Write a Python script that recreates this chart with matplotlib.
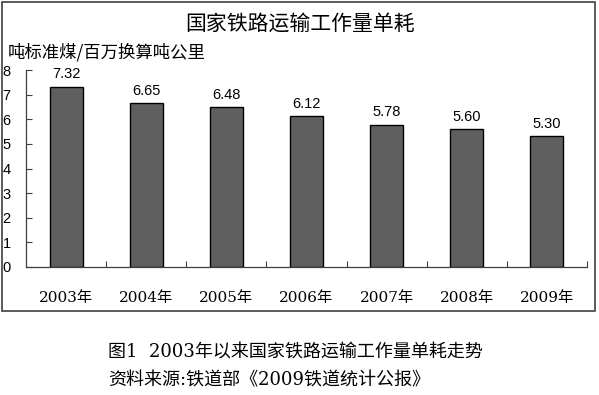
import matplotlib.pyplot as plt
import matplotlib.patches as patches

years = ['2003年', '2004年', '2005年', '2006年', '2007年', '2008年', '2009年']
values = [7.32, 6.65, 6.48, 6.12, 5.78, 5.60, 5.30]
y_ticks = [0, 1, 2, 3, 4, 5, 6, 7, 8]

title = '国家铁路运输工作量单耗'
unit = '吨标准煤/百万换算吨公里'
caption1 = '图1  2003年以来国家铁路运输工作量单耗走势'
caption2 = '资料来源:铁道部《2009铁道统计公报》'

CJK = ['Noto Sans CJK SC', 'DejaVu Sans']
SERIF_CJK = ['DejaVu Serif', 'Noto Sans CJK SC']

W, H = 599, 395
fig = plt.figure(figsize=(W / 100, H / 100), dpi=100)
fig.patch.set_facecolor('white')

# outer frame around the chart
frame = patches.Rectangle((2 / W, (H - 311) / H), 593 / W, 309 / H,
                          transform=fig.transFigure, fill=False,
                          edgecolor='#404040', linewidth=1.2)
fig.add_artist(frame)

ax = fig.add_axes([26 / W, (H - 267) / H, 561 / W, 197 / H])
x = list(range(len(years)))
bars = ax.bar(x, values, width=0.41, color='#5f5f5f', edgecolor='black', linewidth=1.0)

for b, v in zip(bars, values):
    ax.annotate(f'{v:.2f}', (b.get_x() + b.get_width() / 2, v),
                xytext=(0, 4), textcoords='offset points',
                ha='center', va='bottom', fontsize=10.5, family='Liberation Sans')

ax.set_xlim(-0.5, len(years) - 0.5)
ax.set_ylim(0, 8)
ax.set_yticks(y_ticks)
ax.set_yticklabels([str(t) for t in y_ticks], fontsize=10.5, family='Liberation Sans')
ax.tick_params(axis='y', direction='in', length=4, width=0.8, color='#404040', pad=11)

# category separators as minor ticks, labels at majors without tick marks
ax.set_xticks(x)
ax.set_xticklabels(years, fontsize=11, family=SERIF_CJK)
ax.set_xticks([i + 0.5 for i in x], minor=True)
ax.tick_params(axis='x', which='major', length=0, pad=17)
ax.tick_params(axis='x', which='minor', direction='in', length=4, width=0.8, color='#404040')

for s in ['top', 'right']:
    ax.spines[s].set_visible(False)
for s in ['left', 'bottom']:
    ax.spines[s].set_color('#404040')
    ax.spines[s].set_linewidth(0.9)

fig.text(300 / W, 1 - 24 / H, title, ha='center', va='center', fontsize=15, family=CJK)
fig.text(8 / W, 1 - 52 / H, unit, ha='left', va='center', fontsize=12.5, family=CJK,
         fontweight='light')

fig.text(108 / W, 1 - 352 / H, caption1, ha='left', va='center', fontsize=13, family=SERIF_CJK)
fig.text(108 / W, 1 - 380 / H, caption2, ha='left', va='center', fontsize=13, family=SERIF_CJK)

fig.savefig('out.png', dpi=100)
